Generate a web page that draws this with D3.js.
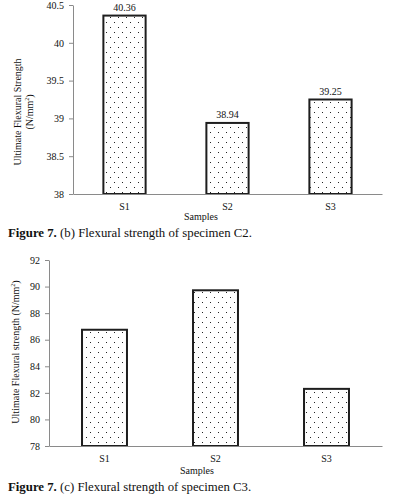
<!DOCTYPE html>
<html>
<head>
<meta charset="utf-8">
<script src="https://cdn.jsdelivr.net/npm/d3@7"></script>
<style>
  body { margin: 0; background: #fff; }
  text { font-family: "Liberation Serif", "Times New Roman", serif; fill: #111; }
</style>
</head>
<body>
<div id="chart"></div>
<script>
const samples = ['S1', 'S2', 'S3'];

// specimen C2
const c2Values = [40.36, 38.94, 39.25];
const c2Ticks = [38, 38.5, 39, 39.5, 40, 40.5];

// specimen C3
const c3Values = [86.75, 89.72, 82.3];
const c3Ticks = [78, 80, 82, 84, 86, 88, 90, 92];

const width = 406;
const height = 499;
const axisColor = '#8a8a8a';

const svg = d3.select('#chart')
  .append('svg')
  .attr('width', width)
  .attr('height', height);

// dotted fill used by every bar
const pattern = svg.append('defs')
  .append('pattern')
  .attr('id', 'dots')
  .attr('patternUnits', 'userSpaceOnUse')
  .attr('width', 8)
  .attr('height', 10);
pattern.append('rect').attr('width', 8).attr('height', 10).attr('fill', '#fff');
pattern.append('rect').attr('x', 2).attr('y', 2).attr('width', 1).attr('height', 1).attr('fill', '#222');
pattern.append('rect').attr('x', 6).attr('y', 7).attr('width', 1).attr('height', 1).attr('fill', '#222');

// draws one bar panel
function panel(cfg) {
  const g = svg.append('g');

  const x = d3.scaleBand()
    .domain(samples)
    .range([cfg.left, cfg.right])
    .paddingInner(cfg.pad)
    .paddingOuter(cfg.pad / 2);

  const y = d3.scaleLinear()
    .domain(d3.extent(cfg.ticks))
    .range([cfg.bottom, cfg.top]);

  // bars
  g.selectAll('rect.bar')
    .data(cfg.values)
    .enter()
    .append('rect')
    .attr('class', 'bar')
    .attr('x', (d, i) => x(samples[i]))
    .attr('y', d => y(d))
    .attr('width', x.bandwidth())
    .attr('height', d => y.range()[0] - y(d))
    .attr('fill', 'url(#dots)')
    .attr('stroke', '#1e1e1e')
    .attr('stroke-width', 2);

  // value labels
  if (cfg.showValues) {
    g.selectAll('text.val')
      .data(cfg.values)
      .enter()
      .append('text')
      .attr('class', 'val')
      .attr('x', (d, i) => x(samples[i]) + x.bandwidth() / 2)
      .attr('y', d => y(d) - 5)
      .attr('text-anchor', 'middle')
      .attr('font-size', 10)
      .text(d => d);
  }

  // y axis
  const yAxis = g.append('g')
    .attr('transform', `translate(${cfg.left},0)`)
    .call(d3.axisLeft(y).tickValues(cfg.ticks).tickSize(4).tickSizeOuter(0).tickPadding(5).tickFormat(d => String(d)));
  yAxis.selectAll('path, line').attr('stroke', axisColor);
  yAxis.selectAll('text').attr('font-size', 10).attr('font-family', '"Liberation Serif", serif').attr('fill', '#222');

  // x axis
  const xAxis = g.append('g')
    .attr('transform', `translate(0,${cfg.bottom})`)
    .call(d3.axisBottom(x).tickSize(0).tickPadding(9));
  xAxis.select('path').attr('stroke', axisColor);
  xAxis.selectAll('text').attr('font-size', 10).attr('font-family', '"Liberation Serif", serif').attr('fill', '#222');

  // x title
  g.append('text')
    .attr('x', cfg.xTitleX)
    .attr('y', cfg.xTitleY)
    .attr('text-anchor', 'middle')
    .attr('font-size', 10)
    .text('Samples');

  // y title
  const yt = g.append('text')
    .attr('transform', `translate(${cfg.yTitleX},${cfg.yTitleY}) rotate(-90)`)
    .attr('text-anchor', 'middle')
    .attr('font-size', 10);
  cfg.yTitle.forEach((line, i) => {
    const t = yt.append('tspan').attr('x', 0).attr('dy', i === 0 ? 0 : 12);
    if (line.sup) {
      t.text(line.text);
      t.append('tspan').attr('font-size', 6).attr('dy', -4).text('2');
      t.append('tspan').attr('dy', 4).text(')');
    } else {
      t.text(line.text);
    }
  });

  // caption
  const cap = g.append('text')
    .attr('x', 8)
    .attr('y', cfg.captionY)
    .attr('font-size', 12.8);
  cap.append('tspan').attr('font-weight', 'bold').text('Figure 7.');
  cap.append('tspan').text(' ' + cfg.caption);
}

panel({
  values: c2Values,
  ticks: c2Ticks,
  left: 73, right: 382, top: 5, bottom: 194,
  pad: 0.59,
  showValues: true,
  xTitleX: 201, xTitleY: 220,
  yTitleX: 21, yTitleY: 112,
  yTitle: [{ text: 'Ultimate Flexural Strength' }, { text: '(N/mm', sup: true }],
  captionY: 237,
  caption: '(b) Flexural strength of specimen C2.'
});

panel({
  values: c3Values,
  ticks: c3Ticks,
  left: 49, right: 382, top: 260, bottom: 446,
  pad: 0.595,
  showValues: false,
  xTitleX: 197, xTitleY: 474,
  yTitleX: 19, yTitleY: 352,
  yTitle: [{ text: 'Ultimate Flexural strength (N/mm', sup: true }],
  captionY: 491,
  caption: '(c) Flexural strength of specimen C3.'
});
</script>
</body>
</html>
